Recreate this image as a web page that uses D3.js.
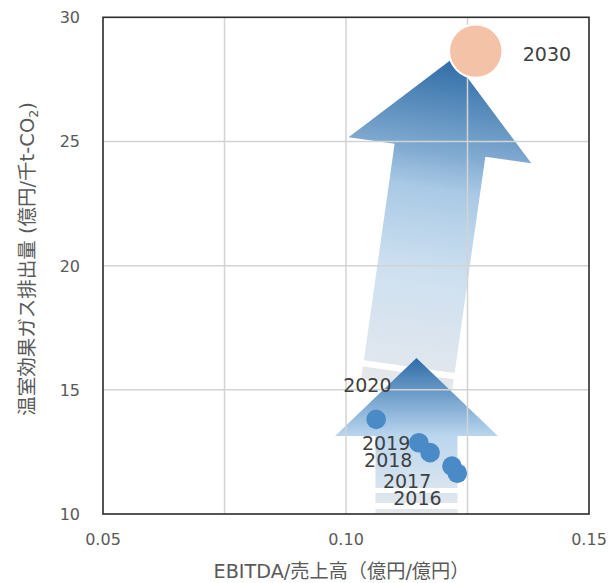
<!DOCTYPE html>
<html><head><meta charset="utf-8">
<script src="https://cdn.jsdelivr.net/npm/d3@7"></script>
<style>
html,body{margin:0;padding:0;background:#fff;}
svg{display:block;}
text{font-family:"DejaVu Sans","Noto Sans CJK JP",sans-serif;}
</style></head>
<body>
<script>
// ---- data ----
const years = ["2016", "2017", "2018", "2019", "2020", "2030"];
const ebitdaRatio = [0.1229, 0.1218, 0.1173, 0.1150, 0.1062, 0.1267];
const ghgIntensity = [11.64, 11.93, 12.47, 12.87, 13.81, 28.64];
const targetYear = "2030";
const xTicks = [0.05, 0.10, 0.15];
const xGrid = [0.075, 0.10, 0.125];
const yTicks = [10, 15, 20, 25, 30];
const yGrid = [15, 20, 25];
const xTitle = "EBITDA/売上高（億円/億円）";

// ---- layout ----
const W = 614, H = 583;
const plot = {left: 103, right: 589, top: 17.3, bottom: 514};
const x = d3.scaleLinear().domain([0.05, 0.15]).range([plot.left, plot.right]);
const y = d3.scaleLinear().domain([10, 30]).range([plot.bottom, plot.top]);

// label offsets (px) relative to each point
const labelOffsets = {
  "2016": [-64, 32], "2017": [-69, 22], "2018": [-66, 14],
  "2019": [-57, 7], "2020": [-33, -27], "2030": [47, 10]
};

const svg = d3.select("body").append("svg").attr("width", W).attr("height", H);
const defs = svg.append("defs");
defs.append("clipPath").attr("id", "plotclip").append("rect")
  .attr("x", plot.left).attr("y", plot.top)
  .attr("width", plot.right - plot.left).attr("height", plot.bottom - plot.top);

function gradient(id, L, stops) {
  const g = defs.append("linearGradient").attr("id", id)
    .attr("gradientUnits", "userSpaceOnUse")
    .attr("x1", 0).attr("y1", 0).attr("x2", 0).attr("y2", -L);
  stops.forEach(s => g.append("stop").attr("offset", s[0]).attr("stop-color", s[1]));
}

// arrow annotation: tail/tip in data units, sections as fractions of length
function drawArrow(layer, id, tail, tip, spec, stops) {
  const tx = x(tail[0]), ty = y(tail[1]);
  const px = x(tip[0]), py = y(tip[1]);
  const dx = px - tx, dy = py - ty;
  const L = Math.hypot(dx, dy);
  const ang = Math.atan2(dx, -dy) * 180 / Math.PI;
  gradient(id, L, stops);
  const g = layer.append("g").attr("transform", `translate(${tx},${ty}) rotate(${ang})`);
  const sw = spec.shaftHalf * L, hw = spec.headHalf * L;
  spec.stripes.forEach(s => {
    g.append("path")
      .attr("d", `M${-sw},${-s[0]*L}L${sw},${-s[0]*L}L${sw},${-s[1]*L}L${-sw},${-s[1]*L}Z`)
      .attr("fill", `url(#${id})`);
  });
  const s0 = spec.shaftStart * L, h0 = spec.headStart * L;
  g.append("path")
    .attr("d", `M${-sw},${-s0}L${sw},${-s0}L${sw},${-h0}L${hw},${-h0}L0,${-L}L${-hw},${-h0}L${-sw},${-h0}Z`)
    .attr("fill", `url(#${id})`);
}

const arrowLayer = svg.append("g").attr("clip-path", "url(#plotclip)");

// big tilted arrow (trend toward 2030)
drawArrow(arrowLayer, "gBig", [0.11249, 15.21], [0.12202, 28.35], {
  stripes: [[0, 0.036]], shaftStart: 0.055, headStart: 0.718,
  shaftHalf: 0.139, headHalf: 0.28
}, [[0, "#e5e7ea"], [0.08, "#dfe6ee"], [0.35, "#cde0f0"], [0.6, "#a9c9e5"],
    [0.718, "#7fa9d0"], [1, "#2e6ca6"]]);

// small vertical arrow
drawArrow(arrowLayer, "gSmall", [0.11450, 10.0], [0.11450, 16.28], {
  stripes: [[0, 0.032], [0.07, 0.135]], shaftStart: 0.167, headStart: 0.5,
  shaftHalf: 0.263, headHalf: 0.522
}, [[0, "#e5e8ec"], [0.17, "#d9e4ef"], [0.5, "#bad6ee"], [0.75, "#73a1cd"], [1, "#2e6ca6"]]);

// gridlines (drawn over arrows)
const grid = svg.append("g");
grid.selectAll(".gx").data(xGrid).join("line")
  .attr("x1", d => x(d)).attr("x2", d => x(d))
  .attr("y1", plot.top).attr("y2", plot.bottom)
  .attr("stroke", "#d3d3d3").attr("stroke-width", 1.5);
grid.selectAll(".gy").data(yGrid).join("line")
  .attr("y1", d => y(d)).attr("y2", d => y(d))
  .attr("x1", plot.left).attr("x2", plot.right)
  .attr("stroke", "#d3d3d3").attr("stroke-width", 1.5);

// points
const pts = years.map((yr, i) => ({year: yr, x: ebitdaRatio[i], y: ghgIntensity[i]}));
const actual = pts.filter(d => d.year !== targetYear);
const target = pts.filter(d => d.year === targetYear);

svg.append("g").selectAll("circle").data(actual).join("circle")
  .attr("cx", d => x(d.x)).attr("cy", d => y(d.y)).attr("r", 9.8)
  .attr("fill", "#4a8ac6");
svg.append("g").selectAll("circle").data(target).join("circle")
  .attr("cx", d => x(d.x)).attr("cy", d => y(d.y)).attr("r", 26.7)
  .attr("fill", "#f4c2a6").attr("stroke", "#ffffff").attr("stroke-width", 2);

// data labels
svg.append("g").selectAll("text").data(pts).join("text")
  .attr("x", d => x(d.x) + labelOffsets[d.year][0])
  .attr("y", d => y(d.y) + labelOffsets[d.year][1])
  .attr("font-size", 19).attr("fill", "#404040")
  .text(d => d.year);

// frame
svg.append("rect").attr("x", plot.left).attr("y", plot.top)
  .attr("width", plot.right - plot.left).attr("height", plot.bottom - plot.top)
  .attr("fill", "none").attr("stroke", "#2b2b2b").attr("stroke-width", 1.6);

// tick labels
svg.append("g").selectAll("text").data(xTicks).join("text")
  .attr("x", d => x(d)).attr("y", 545).attr("text-anchor", "middle")
  .attr("font-size", 16).attr("fill", "#595959")
  .text(d => d3.format(".2f")(d));
svg.append("g").selectAll("text").data(yTicks).join("text")
  .attr("x", 80).attr("y", d => y(d) + 6).attr("text-anchor", "end")
  .attr("font-size", 16).attr("fill", "#595959")
  .text(d => d);

// axis titles
svg.append("text").attr("x", 341.5).attr("y", 578).attr("text-anchor", "middle")
  .attr("font-size", 19.2).attr("fill", "#595959").text(xTitle);

const yt = svg.append("text").attr("transform", "translate(34,259) rotate(-90)")
  .attr("text-anchor", "middle").attr("font-size", 19.5).attr("fill", "#595959");
yt.append("tspan").text("温室効果ガス排出量 (億円/千t-CO");
yt.append("tspan").attr("font-size", 12.5).attr("dy", 4).text("2");
yt.append("tspan").attr("dy", -4).text(")");
</script>
</body></html>
